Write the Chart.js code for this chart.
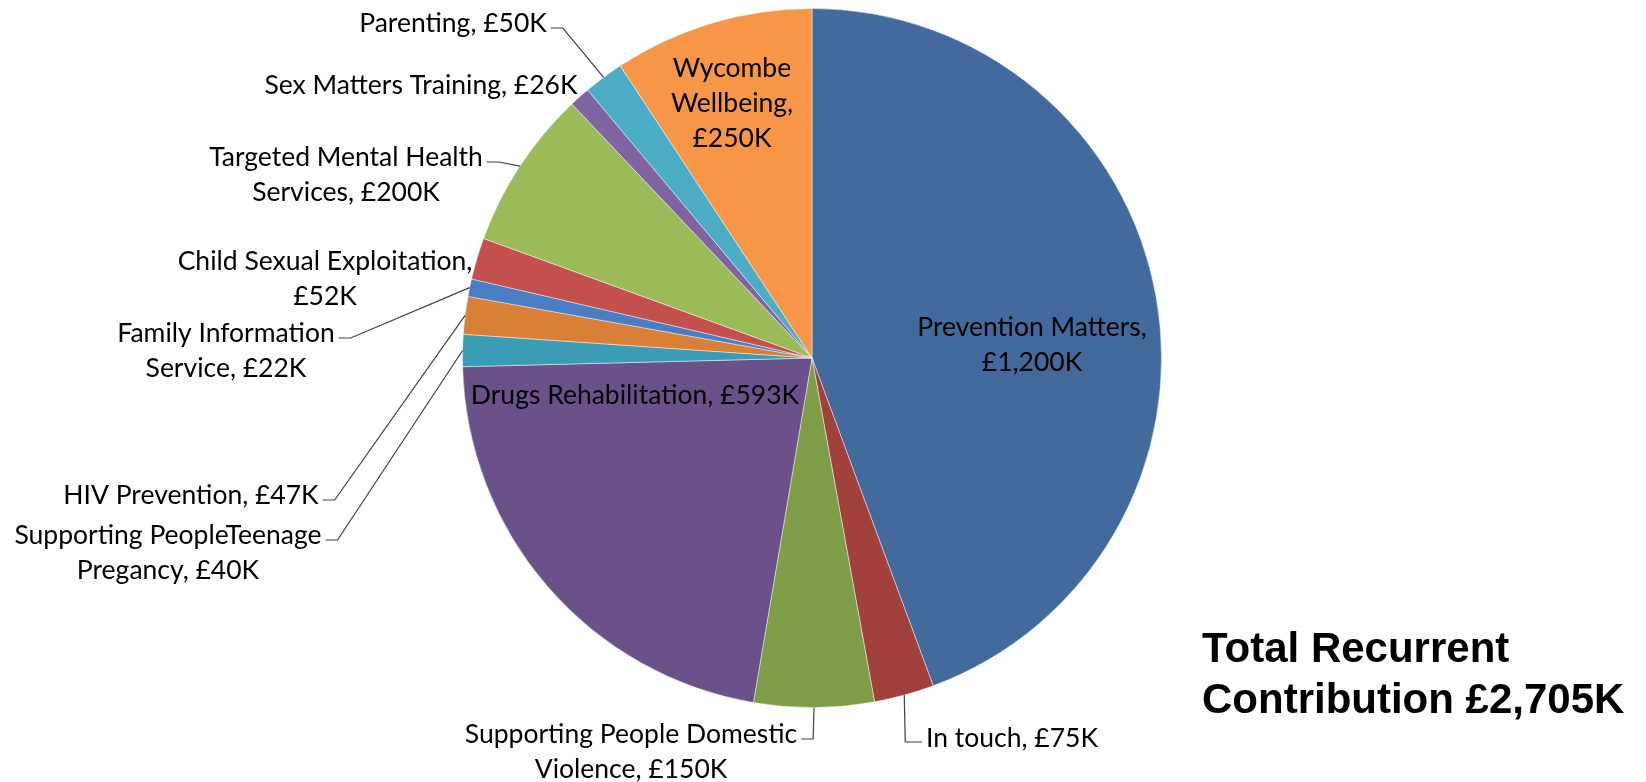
<!DOCTYPE html>
<html>
<head>
<meta charset="utf-8">
<script src="https://cdn.jsdelivr.net/npm/chart.js@4/dist/chart.umd.min.js"></script>
<style>
  body { margin: 0; background: #fff; }
  #wrap { position: relative; width: 1646px; height: 782px; }
  #total {
    position: absolute; left: 1202px; top: 622px;
    font: bold 42px "Liberation Sans", Arial, sans-serif;
    line-height: 51px; color: #000; white-space: nowrap;
  }
</style>
</head>
<body>
<div id="wrap">
  <canvas id="pie"></canvas>
  <div id="total">Total Recurrent<br>Contribution £2,705K</div>
</div>
<script>
const categories = ['Prevention Matters', 'In touch', 'Supporting People Domestic Violence', 'Drugs Rehabilitation',
  'Supporting PeopleTeenage Pregancy', 'HIV Prevention', 'Family Information Service', 'Child Sexual Exploitation',
  'Targeted Mental Health Services', 'Sex Matters Training', 'Parenting', 'Wycombe Wellbeing'];
const amounts = [1200, 75, 150, 593, 40, 47, 22, 52, 200, 26, 50, 250];
const sliceColours = ['#426a9c', '#a2403d', '#7f9c47', '#6a5189', '#3a9cb5', '#da8036',
  '#4a7ec4', '#c4504d', '#9bbb59', '#8064a2', '#4bacc6', '#f79646'];

// label text broken into lines, same order as categories
const labelText = [
  ['Prevention Matters,', '£1,200K'],
  ['In touch, £75K'],
  ['Supporting People Domestic', 'Violence, £150K'],
  ['Drugs Rehabilitation, £593K'],
  ['Supporting PeopleTeenage', 'Pregancy, £40K'],
  ['HIV Prevention, £47K'],
  ['Family Information', 'Service, £22K'],
  ['Child Sexual Exploitation,', '£52K'],
  ['Targeted Mental Health', 'Services, £200K'],
  ['Sex Matters Training, £26K'],
  ['Parenting, £50K'],
  ['Wycombe', 'Wellbeing,', '£250K']
];
// where each label sits (centre of first line) and which side its leader leaves from
const labelSpots = [
  { x: 1032, y: 327 },
  { x: 1012, y: 738, leader: 'left' },
  { x: 631, y: 734, leader: 'right' },
  { x: 635, y: 395 },
  { x: 168, y: 535, leader: 'right' },
  { x: 191, y: 495, leader: 'right' },
  { x: 226, y: 333, leader: 'right' },
  { x: 325, y: 261 },
  { x: 346, y: 157, leader: 'right' },
  { x: 421, y: 85 },
  { x: 453, y: 23, leader: 'right' },
  { x: 732, y: 68 }
];
const labelFont = '26.5px Lato, "Open Sans", sans-serif';
const lineGap = 35;

const sliceLabels = {
  id: 'sliceLabels',
  afterDatasetsDraw(chart) {
    const ctx = chart.ctx;
    const arcs = chart.getDatasetMeta(0).data;
    ctx.save();
    ctx.font = labelFont;
    ctx.fillStyle = '#000';
    ctx.textAlign = 'center';
    ctx.textBaseline = 'middle';
    ctx.strokeStyle = '#404040';
    ctx.lineWidth = 1.2;
    arcs.forEach((arc, i) => {
      const spot = labelSpots[i];
      const lines = labelText[i];
      lines.forEach((t, k) => ctx.fillText(t, spot.x, spot.y + k * lineGap));
      if (!spot.leader) return;
      const p = arc.getProps(['x', 'y', 'startAngle', 'endAngle', 'outerRadius'], true);
      const mid = (p.startAngle + p.endAngle) / 2;
      const ex = p.x + Math.cos(mid) * p.outerRadius;
      const ey = p.y + Math.sin(mid) * p.outerRadius;
      const w = ctx.measureText(lines[0]).width;
      let sx, sy, bx;
      if (spot.leader === 'right') {
        sx = spot.x + w / 2 + 4; sy = spot.y + 5; bx = sx + 12;
      } else {
        sx = spot.x - w / 2 - 4; sy = spot.y + 4; bx = ex + 1;
      }
      ctx.beginPath();
      ctx.moveTo(sx, sy);
      ctx.lineTo(bx, sy);
      ctx.lineTo(ex, ey);
      ctx.stroke();
    });
    ctx.restore();
  }
};

new Chart(document.getElementById('pie'), {
  type: 'pie',
  data: {
    labels: categories,
    datasets: [{
      data: amounts,
      backgroundColor: sliceColours,
      borderColor: 'rgba(255,255,255,0.45)',
      borderWidth: 1
    }]
  },
  options: {
    responsive: true,
    maintainAspectRatio: false,
    animation: false,
    layout: { padding: { left: 462, right: 484, top: 8, bottom: 74 } },
    plugins: {
      legend: { display: false },
      tooltip: { enabled: false }
    }
  },
  plugins: [sliceLabels]
});
</script>
</body>
</html>
